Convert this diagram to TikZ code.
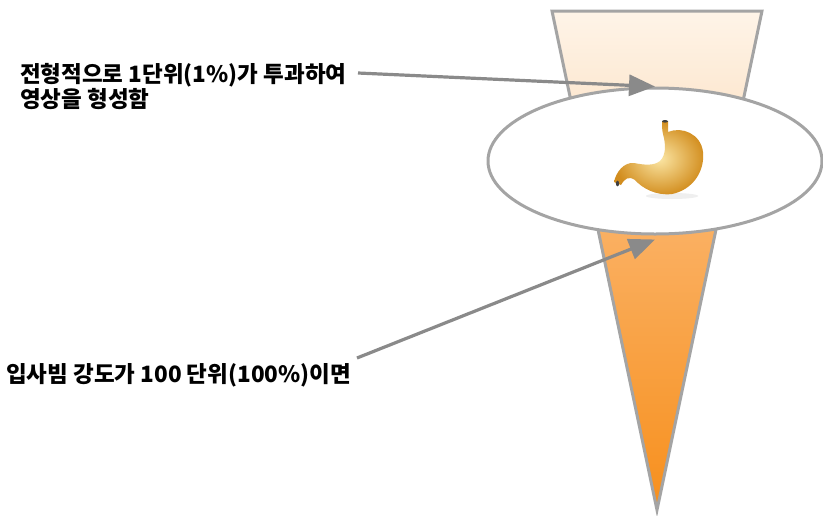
\documentclass[tikz,border=0pt]{standalone}
\usepackage{fontspec}
\newfontfamily\kr{Noto Sans CJK KR}
\usetikzlibrary{arrows.meta,shapes.geometric,calc}
\definecolor{edgegray}{HTML}{A4A4A4}
\definecolor{arrowgray}{HTML}{8A8A8A}
\definecolor{paletop}{HTML}{FEF4E8}
\definecolor{palebot}{HTML}{FCE0C2}
\definecolor{beamtop}{HTML}{FBB873}
\definecolor{beambot}{HTML}{F78F1C}
\definecolor{goldhi}{HTML}{FBE6A4}
\definecolor{goldlo}{HTML}{D28D1E}
\tikzset{
  beamedge/.style={draw=edgegray, line width=3pt, line join=miter},
  pointer/.style={draw=arrowgray, line width=3.2pt, -{Triangle[length=26pt,width=21pt]}},
  label/.style={font=\kr\bfseries\fontsize{22.5}{23}\selectfont, inner sep=0pt, align=left},
}
\begin{document}
\begin{tikzpicture}[x=1pt,y=-1pt]
\useasboundingbox (0,0) rectangle (823,515);
% beam: pale part above the object, saturated part below
\coordinate (bl) at (552,11);
\coordinate (br) at (762,11);
\coordinate (tip) at (657,510);
\fill[top color=paletop, bottom color=palebot] (bl) -- (br) -- (730.4,161) -- (583.6,161) -- cycle;
\fill[top color=beamtop, bottom color=beambot] (583.6,161) -- (730.4,161) -- (tip) -- cycle;
\draw[beamedge] (bl) -- (br) -- (tip) -- cycle;
% object plane
\node[ellipse, draw=edgegray, line width=3pt, fill=white, minimum width=334pt, minimum height=146pt, inner sep=0pt] (ell) at (655,161) {};
% stomach: soft shadow, then the organ
\fill[black!12, opacity=0.5] (672,196) ellipse (26pt and 3pt);
\shade[inner color=goldhi, outer color=goldlo]
  (662,121) -- (668,121)
  .. controls (668,126) and (668,129) .. (668,132)
  .. controls (682,126) and (701,134) .. (703,152)
  .. controls (705,172) and (692,190) .. (672,194)
  .. controls (656,196) and (642,188) .. (635,180)
  .. controls (629,176) and (625,178) .. (621,185)
  -- (614,182)
  .. controls (616,172) and (624,162) .. (634,163)
  .. controls (644,165) and (654,166) .. (660,161)
  .. controls (666,155) and (666,145) .. (663,134)
  .. controls (662,130) and (662,126) .. (662,121)
  -- cycle;
\fill[black!75] (665,121.3) ellipse (3pt and 1.3pt);
\fill[black!75] (617.5,183.5) ellipse (1.6pt and 2.8pt);
% labels
\node[label, anchor=north west] (t1) at (20,63) {전형적으로 1단위(1\%)가 투과하여\\영상을 형성함};
\node[label, anchor=base west] (t2) at (6,382) {입사빔 강도가 100 단위(100\%)이면};
% pointers
\coordinate (p1) at (358,73);
\coordinate (p2) at (357,358);
\draw[pointer] (p1) -- (ell.north);
\draw[pointer] (p2) -- ($(ell.south)+(0,4)$);
\end{tikzpicture}
\end{document}
